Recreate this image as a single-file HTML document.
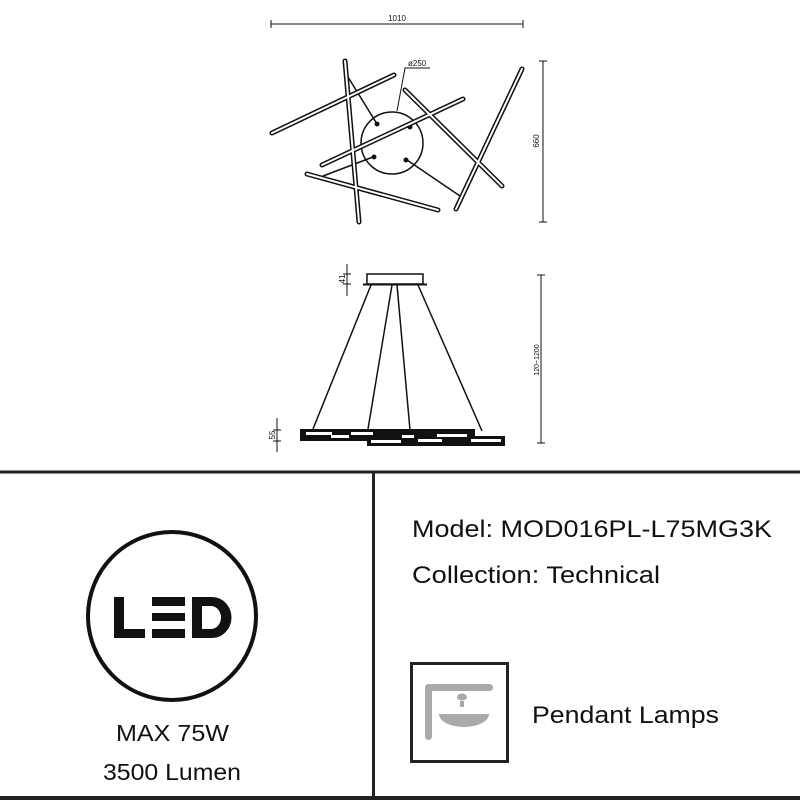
<!DOCTYPE html>
<html><head><meta charset="utf-8"><style>
html,body{margin:0;padding:0;background:#fff;width:800px;height:800px;overflow:hidden}
svg{display:block}
text{font-family:"Liberation Sans",Arial,sans-serif}
</style></head><body>
<svg width="800" height="800" viewBox="0 0 800 800" xmlns="http://www.w3.org/2000/svg">
<g stroke="#111" fill="none" stroke-width="1">
 <line x1="271" y1="24" x2="523" y2="24"/>
 <line x1="271" y1="20" x2="271" y2="28"/><line x1="523" y1="20" x2="523" y2="28"/>
 <line x1="543" y1="61" x2="543" y2="222"/>
 <line x1="539" y1="61" x2="547" y2="61"/><line x1="539" y1="222" x2="547" y2="222"/>
 <circle cx="392" cy="143" r="31" stroke-width="1.5"/>
 <g stroke-width="1.5">
 <line x1="348" y1="77" x2="377" y2="124"/>
 <line x1="323" y1="176" x2="373" y2="157"/>
 <line x1="407" y1="160" x2="460" y2="196"/>
 </g>
 <polyline points="397,111 405,68 430,68"/>
</g>
<g fill="#111">
 <circle cx="377" cy="124" r="2.5"/><circle cx="410" cy="127" r="2.5"/>
 <circle cx="374" cy="157" r="2.5"/><circle cx="406" cy="160" r="2.5"/>
</g>
<g stroke-linecap="round">
 <g stroke="#111" stroke-width="5">
  <line x1="345" y1="61" x2="359" y2="222"/>
  <line x1="272" y1="133" x2="394" y2="75"/>
  <line x1="405" y1="90" x2="502" y2="186"/>
  <line x1="322" y1="165" x2="463" y2="99"/>
  <line x1="307" y1="174" x2="438" y2="210"/>
  <line x1="456" y1="209" x2="522" y2="69"/>
 </g>
 <g stroke="#fff" stroke-width="2">
  <line x1="345" y1="61" x2="359" y2="222"/>
  <line x1="272" y1="133" x2="394" y2="75"/>
  <line x1="405" y1="90" x2="502" y2="186"/>
  <line x1="322" y1="165" x2="463" y2="99"/>
  <line x1="307" y1="174" x2="438" y2="210"/>
  <line x1="456" y1="209" x2="522" y2="69"/>
 </g>
</g>
<text x="397" y="21" font-size="8" text-anchor="middle" fill="#111">1010</text>
<text x="408" y="66" font-size="8" fill="#111">ø250</text>
<text transform="translate(539,141) rotate(-90)" font-size="8" text-anchor="middle" fill="#111">660</text>

<g stroke="#111" fill="none">
 <rect x="367" y="274" width="56" height="10" stroke-width="1.5"/>
 <line x1="363" y1="284.5" x2="427" y2="284.5" stroke-width="2"/>
 <g stroke-width="1.5">
  <line x1="371" y1="285" x2="313" y2="429"/>
  <line x1="392" y1="285" x2="368" y2="429"/>
  <line x1="397" y1="285" x2="410" y2="430"/>
  <line x1="418" y1="285" x2="482" y2="431"/>
 </g>
 <line x1="541" y1="275" x2="541" y2="443"/>
 <line x1="537" y1="275" x2="545" y2="275"/><line x1="537" y1="443" x2="545" y2="443"/>
 <line x1="347" y1="264" x2="347" y2="296"/>
 <line x1="343" y1="274" x2="351" y2="274"/><line x1="343" y1="284" x2="351" y2="284"/>
 <line x1="277" y1="418" x2="277" y2="452"/>
 <line x1="273" y1="430" x2="281" y2="430"/><line x1="273" y1="441" x2="281" y2="441"/>
</g>
<g fill="#111">
 <rect x="300" y="429" width="175" height="12"/>
 <rect x="367" y="436" width="138" height="10"/>
</g>
<g fill="#fff">
 <rect x="306" y="432" width="26" height="3"/>
 <rect x="331" y="435" width="18" height="3"/>
 <rect x="351" y="432" width="22" height="3"/>
 <rect x="402" y="435" width="12" height="3"/>
 <rect x="418" y="439" width="24" height="3"/>
 <rect x="437" y="434" width="30" height="3"/>
 <rect x="371" y="440" width="30" height="3"/>
 <rect x="471" y="439" width="30" height="3"/>
</g>
<text transform="translate(345,279) rotate(-90)" font-size="8" text-anchor="middle" fill="#111">41</text>
<text transform="translate(275,435) rotate(-90)" font-size="8" text-anchor="middle" fill="#111">55</text>
<text transform="translate(539,360) rotate(-90)" font-size="7" text-anchor="middle" fill="#111">120~1200</text>

<rect x="0" y="470.5" width="800" height="3" fill="#222"/>
<rect x="372" y="472" width="3" height="328" fill="#222"/>
<rect x="0" y="796" width="800" height="4" fill="#222"/>

<circle cx="172" cy="616" r="84" fill="none" stroke="#111" stroke-width="4"/>
<g fill="#111">
 <rect x="114" y="597" width="10" height="41"/><rect x="114" y="629" width="31" height="9"/>
 <rect x="152" y="597" width="33" height="9"/><rect x="152" y="613" width="33" height="8"/><rect x="152" y="629" width="33" height="9"/>
 <path d="M192 597 H212 A19.5 20.5 0 0 1 212 638 H192 Z M202 606 V629 H211 A10 11.5 0 0 0 211 606 Z" fill-rule="evenodd"/>
</g>
<text x="116" y="741" font-size="23" textLength="113" lengthAdjust="spacingAndGlyphs" fill="#111">MAX 75W</text>
<text x="103" y="780" font-size="23" textLength="138" lengthAdjust="spacingAndGlyphs" fill="#111">3500 Lumen</text>

<text x="412" y="537" font-size="24" textLength="360" lengthAdjust="spacingAndGlyphs" fill="#111">Model: MOD016PL-L75MG3K</text>
<text x="412" y="583" font-size="24" textLength="248" lengthAdjust="spacingAndGlyphs" fill="#111">Collection: Technical</text>

<rect x="411.5" y="663.5" width="96" height="98" fill="none" stroke="#222" stroke-width="3"/>
<g fill="#aaa">
 <rect x="425" y="684" width="68" height="7" rx="3.5"/>
 <rect x="425" y="684" width="7" height="56" rx="3.5"/>
 <ellipse cx="462" cy="697" rx="5" ry="3.5"/>
 <rect x="460" y="701" width="4" height="6"/>
 <path d="M439 714 H489 A25 13 0 0 1 439 714 Z"/>
</g>
<text x="532" y="723" font-size="24" textLength="187" lengthAdjust="spacingAndGlyphs" fill="#111">Pendant Lamps</text>
</svg>
</body></html>
